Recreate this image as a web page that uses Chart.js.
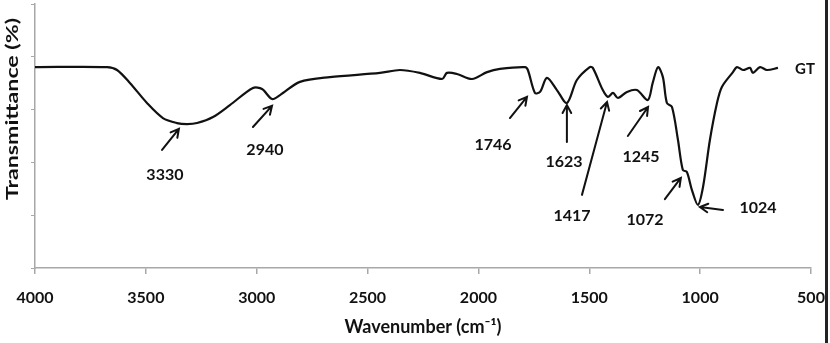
<!DOCTYPE html>
<html>
<head>
<meta charset="utf-8">
<script src="https://cdn.jsdelivr.net/npm/chart.js@4"></script>
<style>
  html, body { margin: 0; padding: 0; background: #fff; }
  #wrap { width: 830px; height: 343px; position: relative; }
</style>
</head>
<body>
<div id="wrap"><canvas id="ftir"></canvas></div>
<script>
// FTIR spectrum of GT
const wavenumbers = [4000, 3675, 3630, 3572, 3495, 3423, 3360, 3314, 3269, 3197, 3121, 3017, 2976, 2931, 2895, 2805, 2670, 2444, 2354, 2264, 2164, 2142, 2097, 2029, 1961, 1903, 1790, 1777, 1745, 1722, 1691, 1646, 1601, 1556, 1498, 1484, 1439, 1416, 1393, 1371, 1330, 1285, 1236, 1214, 1190, 1168, 1150, 1127, 1100, 1078, 1060, 1037, 1010, 987, 956, 924, 902, 852, 834, 807, 775, 762, 730, 699, 649];
const transmittance = [76.1, 76.1, 75.0, 70.1, 62.5, 56.8, 54.9, 54.5, 54.9, 57.2, 61.7, 68.2, 67.8, 64.0, 65.5, 70.5, 72.3, 73.9, 75.0, 73.9, 71.6, 73.9, 73.5, 71.6, 74.2, 75.4, 76.1, 75.0, 66.3, 66.7, 72.0, 67.4, 62.5, 71.2, 76.1, 75.8, 67.4, 64.8, 66.3, 64.4, 66.7, 67.4, 63.6, 70.1, 76.1, 72.3, 62.5, 61.0, 48.5, 37.1, 36.4, 29.5, 23.9, 30.7, 48.5, 62.5, 68.6, 74.2, 76.1, 75.0, 75.8, 73.9, 76.1, 75.0, 75.8];

const xTicks = [4000, 3500, 3000, 2500, 2000, 1500, 1000, 500];

// peak annotations: label, where the text sits, arrow tail -> head (wavenumber, %T)
const annotations = [
  { text: '3330', at: [3414, 35.2], from: [3427, 44.7], to: [3351, 52.7] },
  { text: '2940', at: [2963, 44.7], from: [3017, 53.4], to: [2931, 61.4] },
  { text: '1746', at: [1934, 46.6], from: [1858, 56.8], to: [1781, 64.8] },
  { text: '1623', at: [1614, 40.2], from: [1601, 47.7], to: [1601, 61.7] },
  { text: '1417', at: [1578, 19.7], from: [1533, 27.7], to: [1420, 62.9] },
  { text: '1245', at: [1267, 42.0], from: [1326, 50.0], to: [1235, 61.0] },
  { text: '1072', at: [1249, 18.2], from: [1159, 26.1], to: [1087, 34.1] },
  { text: '1024', at: [739, 22.7], from: [897, 22.0], to: [1001, 23.1] }
];

const FONT = 'Lato, "Open Sans", sans-serif';

const peakPlugin = {
  id: 'peaks',
  afterDatasetsDraw(chart) {
    const { ctx, scales: { x, y } } = chart;
    ctx.save();
    ctx.strokeStyle = '#111';
    ctx.fillStyle = '#111';
    ctx.lineWidth = 2;
    ctx.lineCap = 'round';
    annotations.forEach(a => {
      const x1 = x.getPixelForValue(a.from[0]), y1 = y.getPixelForValue(a.from[1]);
      const x2 = x.getPixelForValue(a.to[0]), y2 = y.getPixelForValue(a.to[1]);
      ctx.beginPath();
      ctx.moveTo(x1, y1);
      ctx.lineTo(x2, y2);
      // open arrowhead
      const ang = Math.atan2(y2 - y1, x2 - x1);
      const len = 9;
      ctx.moveTo(x2 - len * Math.cos(ang - 0.5), y2 - len * Math.sin(ang - 0.5));
      ctx.lineTo(x2, y2);
      ctx.lineTo(x2 - len * Math.cos(ang + 0.5), y2 - len * Math.sin(ang + 0.5));
      ctx.stroke();

      ctx.font = 'bold 16px ' + FONT;
      ctx.textAlign = 'center';
      ctx.textBaseline = 'middle';
      ctx.fillText(a.text, x.getPixelForValue(a.at[0]), y.getPixelForValue(a.at[1]));
    });

    // series name
    ctx.font = 'bold 15px ' + FONT;
    ctx.textAlign = 'left';
    ctx.textBaseline = 'middle';
    ctx.fillText('GT', x.getPixelForValue(572), y.getPixelForValue(75.4));
    ctx.restore();
  },
  afterDraw(chart) {
    const { ctx } = chart;
    ctx.save();
    // y axis title, drawn by hand; the original is stretched along its length
    ctx.translate(12.5, 109);
    ctx.rotate(-Math.PI / 2);
    ctx.font = 'bold 17px ' + FONT;
    const w = ctx.measureText('Transmittance (%)').width;
    ctx.scale(182 / w, 1);
    ctx.fillStyle = '#111';
    ctx.textAlign = 'center';
    ctx.textBaseline = 'middle';
    ctx.fillText('Transmittance (%)', 0, 0);
    ctx.restore();

    // frame line on the right edge
    ctx.save();
    ctx.strokeStyle = '#222';
    ctx.lineWidth = 3;
    ctx.beginPath();
    ctx.moveTo(826.5, 0);
    ctx.lineTo(826.5, 343);
    ctx.stroke();
    ctx.restore();
  }
};

const axisGrey = '#a8a8a8';

new Chart(document.getElementById('ftir'), {
  type: 'line',
  data: {
    datasets: [{
      label: 'GT',
      data: wavenumbers.map((w, i) => ({ x: w, y: transmittance[i] })),
      borderColor: '#111',
      borderWidth: 2.2,
      pointRadius: 0,
      tension: 0.3,
      fill: false
    }]
  },
  options: {
    responsive: true,
    maintainAspectRatio: false,
    animation: false,
    layout: { padding: { top: 4, right: 19, left: 0, bottom: 0 } },
    plugins: {
      legend: { display: false },
      tooltip: { enabled: false }
    },
    scales: {
      x: {
        type: 'linear',
        reverse: true,
        min: 500,
        max: 4000,
        afterBuildTicks: (scale) => { scale.ticks = xTicks.map(v => ({ value: v })); },
        afterFit: (scale) => {
          scale.height = 75;
          scale.paddingLeft = 0;
          scale.paddingRight = 0;
        },
        border: { color: axisGrey, width: 1.5 },
        grid: { drawOnChartArea: false, drawTicks: true, tickLength: 6, color: axisGrey, lineWidth: 1.5 },
        ticks: {
          padding: 14,
          maxRotation: 0,
          color: '#111',
          font: { family: FONT, size: 16, weight: 'bold' },
          callback: (v) => String(v)
        },
        title: {
          display: true,
          text: 'Wavenumber (cm\u207B\u00B9)',
          color: '#111',
          font: { family: FONT, size: 18, weight: 'bold' },
          padding: { top: 0, bottom: 5 }
        }
      },
      y: {
        min: 0,
        max: 100,
        afterFit: (scale) => { scale.width = 35; },
        border: { color: axisGrey, width: 1.5 },
        grid: { drawOnChartArea: false, drawTicks: true, tickLength: 4, color: axisGrey, lineWidth: 1 },
        ticks: { stepSize: 20, display: false }
      }
    }
  },
  plugins: [peakPlugin]
});
</script>
</body>
</html>
